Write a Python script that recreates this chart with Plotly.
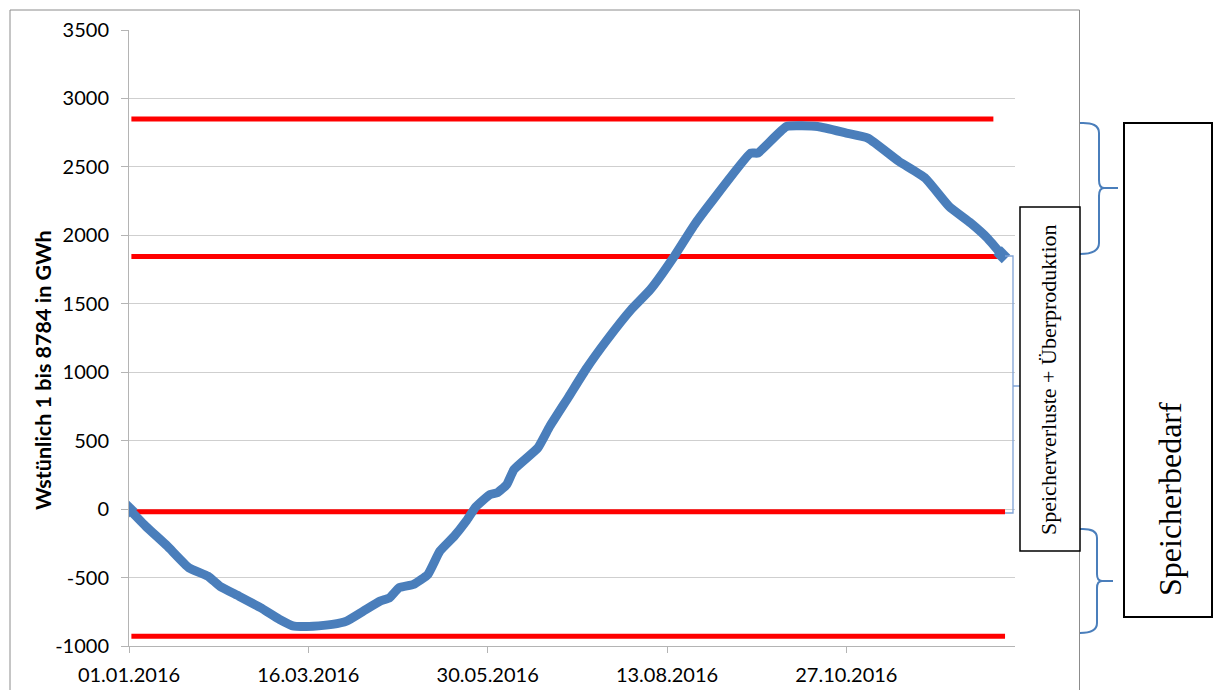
import plotly.graph_objects as go

# ---------------- data ----------------
dates = ["2016-01-01", "2016-01-08", "2016-01-17", "2016-01-26", "2016-02-03", "2016-02-08",
         "2016-02-16", "2016-02-25", "2016-03-04", "2016-03-10", "2016-03-18", "2016-03-26",
         "2016-04-01", "2016-04-08", "2016-04-15", "2016-04-19", "2016-04-23", "2016-04-29",
         "2016-05-05", "2016-05-10", "2016-05-16", "2016-05-21", "2016-05-25", "2016-05-31",
         "2016-06-03", "2016-06-07", "2016-06-10", "2016-06-20", "2016-06-25", "2016-07-03",
         "2016-07-10", "2016-07-19", "2016-07-29", "2016-08-06", "2016-08-16", "2016-08-24",
         "2016-08-31", "2016-09-17", "2016-09-20", "2016-10-02", "2016-10-15", "2016-10-27",
         "2016-11-05", "2016-11-18", "2016-11-29", "2016-12-09", "2016-12-18", "2016-12-25",
         "2016-12-31"]
values = [0, -125, -270, -428, -490, -563,
          -636, -720, -806, -855, -855, -842,
          -818, -745, -672, -647, -574, -550,
          -477, -307, -198, -88, 15, 107,
          119, 180, 289, 447, 605, 824,
          1019, 1238, 1457, 1603, 1846, 2065,
          2230, 2601, 2601, 2795, 2795, 2747,
          2710, 2540, 2418, 2211, 2090, 1980,
          1858]

levels = [2849, 1846, -20, -928]
level_start = ["2016-01-02", "2016-01-02", "2016-01-02", "2016-01-02"]
level_end = ["2016-12-27 12:00", "2017-01-01 09:00", "2017-01-01 09:00", "2017-01-01 09:00"]

y_ticks = [-1000, -500, 0, 500, 1000, 1500, 2000, 2500, 3000, 3500]
y_title = "Wstünlich 1 bis 8784 in GWh"
label_small = "Speicherverluste + Überproduktion"
label_big = "Speicherbedarf"

# ---------------- geometry helpers ----------------
W, H = 1216, 690
L, R, T, B = 129, 1015, 30, 646


def px(x):
    return (x - L) / (R - L)


def py(y):
    return (B - y) / (B - T)


def path(cmds):
    out = []
    for c in cmds:
        if isinstance(c, str):
            out.append(c)
        else:
            out.append(f"{px(c[0]):.5f},{py(c[1]):.5f}")
    return " ".join(out)


fig = go.Figure()

for lv, s, e in zip(levels, level_start, level_end):
    fig.add_trace(go.Scatter(x=[s, e], y=[lv, lv], mode="lines",
                             line=dict(color="#ff0000", width=5),
                             showlegend=False, hoverinfo="skip"))

fig.add_trace(go.Scatter(x=dates, y=values, mode="lines",
                         line=dict(color="#4a7ebb", width=9, shape="spline", smoothing=0.4),
                         showlegend=False))
fig.add_trace(go.Scatter(x=[dates[0], dates[-1]], y=[values[0], values[-1]], mode="markers",
                         marker=dict(symbol="diamond", size=13, color="#4a7ebb"),
                         showlegend=False))

shapes = []
border = dict(color="#8c8c8c", width=1)
shapes.append(dict(type="line", xref="paper", yref="paper", x0=px(10), x1=px(1079.5), y0=py(10), y1=py(10), line=border))
shapes.append(dict(type="line", xref="paper", yref="paper", x0=px(10), x1=px(10), y0=py(10), y1=py(700), line=border))
shapes.append(dict(type="line", xref="paper", yref="paper", x0=px(1079.5), x1=px(1079.5), y0=py(10), y1=py(700), line=border))

shapes.append(dict(type="path", xref="paper", yref="paper", layer="above",
                   path=path(["M", (1005, 256), "L", (1013, 256), "L", (1013, 513), "L", (1005, 513),
                              "M", (1013, 386), "L", (1020, 386)]),
                   line=dict(color="#7fa2d6", width=1.3)))
shapes.append(dict(type="path", xref="paper", yref="paper", layer="above",
                   path=path(["M", (1080, 123), "Q", (1099, 122), (1099, 133), "L", (1099, 180),
                              "Q", (1099, 188), (1104, 188), "L", (1118, 188),
                              "M", (1104, 188), "Q", (1099, 188), (1099, 196), "L", (1099, 243),
                              "Q", (1099, 254), (1080, 254)]),
                   line=dict(color="#4a7ebb", width=2)))
shapes.append(dict(type="path", xref="paper", yref="paper", layer="above",
                   path=path(["M", (1080, 529), "Q", (1097, 528), (1097, 538), "L", (1097, 574),
                              "Q", (1097, 581), (1102, 581), "L", (1113, 581),
                              "M", (1102, 581), "Q", (1097, 581), (1097, 588), "L", (1097, 623),
                              "Q", (1097, 633), (1080, 633)]),
                   line=dict(color="#4a7ebb", width=2)))
shapes.append(dict(type="rect", xref="paper", yref="paper", layer="above",
                   x0=px(1020), x1=px(1080), y0=py(207), y1=py(551),
                   fillcolor="white", line=dict(color="black", width=1.5)))
shapes.append(dict(type="rect", xref="paper", yref="paper", layer="above",
                   x0=px(1124), x1=px(1212), y0=py(123), y1=py(617),
                   fillcolor="white", line=dict(color="black", width=2)))

annotations = [
    dict(text=f"<b>{y_title}</b>", xref="paper", yref="paper", x=px(43), y=py(370),
         xanchor="center", yanchor="middle", textangle=-90, showarrow=False,
         font=dict(family="Lato", size=21.5, color="black")),
    dict(text=label_small, xref="paper", yref="paper", x=px(1049), y=py(380),
         xanchor="center", yanchor="middle", textangle=-90, showarrow=False,
         font=dict(family="Liberation Serif", size=22, color="black")),
    dict(text=label_big, xref="paper", yref="paper", x=px(1170), y=py(598),
         xanchor="center", yanchor="bottom", textangle=-90, showarrow=False,
         font=dict(family="Liberation Serif", size=32, color="black")),
]

fig.update_layout(
    width=W, height=H,
    margin=dict(l=L, r=W - R, t=T, b=H - B, pad=0, autoexpand=False),
    paper_bgcolor="white", plot_bgcolor="white",
    shapes=shapes, annotations=annotations,
    showlegend=False,
    font=dict(family="Lato", size=20, color="black"),
    xaxis=dict(type="date", range=["2016-01-01", "2017-01-05 13:00"], automargin=False,
               tick0="2016-01-01", dtick=75 * 86400000, tickformat="%d.%m.%Y",
               showgrid=False, zeroline=False, showline=True, linecolor="#b4b4b4", linewidth=1,
               ticks="outside", ticklen=6, tickcolor="#b4b4b4",
               tickfont=dict(family="Lato", size=20, color="black"), ticklabelstandoff=5),
    yaxis=dict(range=[-1000, 3500], tickvals=y_ticks, ticktext=[str(v) for v in y_ticks],
               automargin=False, showgrid=True, gridcolor="#cfcfcf",
               gridwidth=1, zeroline=False, showline=True, linecolor="#b4b4b4", linewidth=1,
               ticks="outside", ticklen=7, tickcolor="#b4b4b4",
               tickfont=dict(family="Lato", size=20, color="black"), ticklabelstandoff=8),
)

fig.write_html("out.html", config={"displayModeBar": False},
               post_script="document.body.style.margin='0';document.body.style.overflow='hidden';")
